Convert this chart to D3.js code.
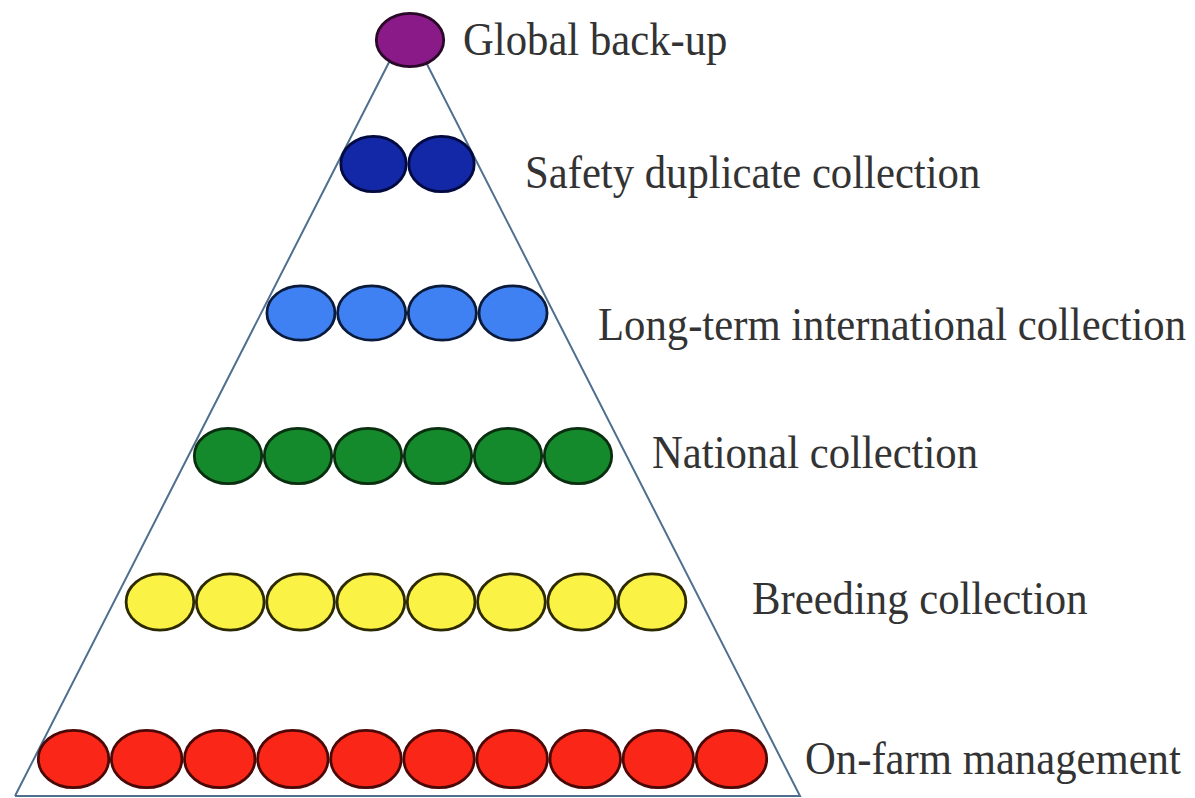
<!DOCTYPE html>
<html>
<head>
<meta charset="utf-8">
<script src="https://cdn.jsdelivr.net/npm/d3@7"></script>
<style>
  body { margin: 0; background: #fff; }
  .label { font-family: "Liberation Serif", "Times New Roman", serif; fill: #333; }
</style>
</head>
<body>
<div class="chart"></div>
<script>
var svgWidth = 1195;
var svgHeight = 798;

// levels of the conservation pyramid, top to bottom
var levels = ["Global back-up", "Safety duplicate collection", "Long-term international collection",
  "National collection", "Breeding collection", "On-farm management"];
var counts = [1, 2, 4, 6, 8, 10];
var fills = ["#8a1a88", "#1228a6", "#3f80f2", "#148a2c", "#faf244", "#fa2618"];
var strokes = ["#2a0828", "#020a40", "#0a1a3a", "#0a2e10", "#2e2a00", "#4a0806"];

// layout
var rowY = d3.scaleLinear().domain([0, 1, 2, 3, 4, 5]).range([40, 164, 313, 456, 602, 759]);
var rowCenter = [410, 407.5, 407, 403, 406, 402.5];
var cellW = [70, 68, 70.7, 70, 70.3, 73.1];
var ry = [28, 29, 28.5, 29, 29.5, 30];
var labelX = [463, 525, 598, 652, 752, 805];
var labelBase = [55, 188, 340, 468, 614, 774];

var apex = [407.5, 26];
var baseY = 796;
var baseLeft = 15, baseRight = 800;

var svg = d3.select(".chart")
  .append("svg")
  .attr("width", svgWidth)
  .attr("height", svgHeight);

// triangle outline
svg.append("path")
  .attr("d", d3.line()([[baseLeft, baseY], apex, [baseRight, baseY], [baseLeft, baseY]]))
  .attr("fill", "none")
  .attr("stroke", "#4f6f8f")
  .attr("stroke-width", 2);

levels.forEach(function(name, i) {
  var n = counts[i];
  var x = d3.scaleBand()
    .domain(d3.range(n))
    .range([rowCenter[i] - n * cellW[i] / 2, rowCenter[i] + n * cellW[i] / 2]);

  svg.append("g").selectAll("ellipse")
    .data(d3.range(n))
    .enter().append("ellipse")
      .attr("cx", function(d) { return x(d) + x.bandwidth() / 2; })
      .attr("cy", rowY(i))
      .attr("rx", x.bandwidth() / 2 - 1.3)
      .attr("ry", ry[i] - 1.3)
      .attr("fill", fills[i])
      .attr("stroke", strokes[i])
      .attr("stroke-width", 2.8);

  svg.append("text")
    .attr("class", "label")
    .attr("transform", "translate(" + labelX[i] + "," + labelBase[i] + ") scale(1,1.08)")
    .style("font-size", "42.7px")
    .text(name);
});
</script>
</body>
</html>
